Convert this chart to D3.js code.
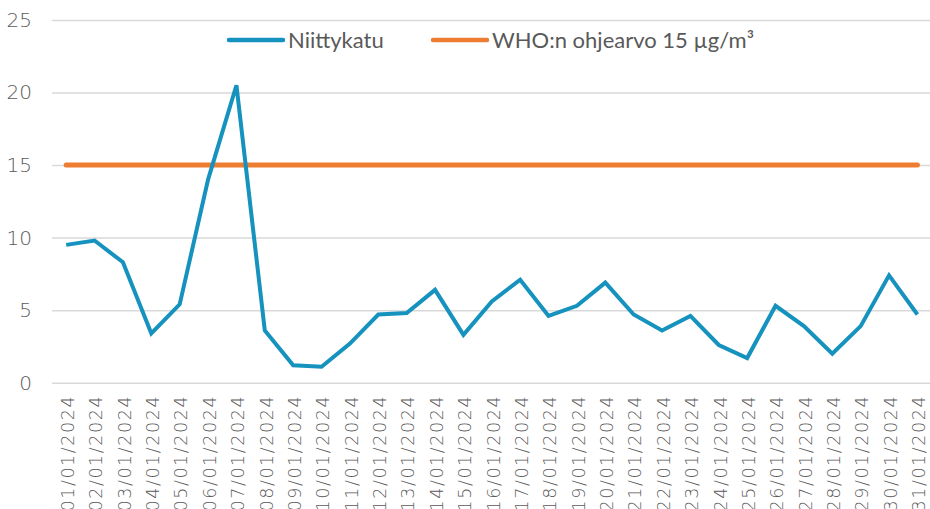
<!DOCTYPE html>
<html><head><meta charset="utf-8">
<script src="https://cdn.jsdelivr.net/npm/d3@7"></script>
<style>
html,body{margin:0;padding:0;background:#fff;}
svg{display:block;}
</style></head>
<body>
<svg id="chart" width="930" height="509"></svg>
<script>
const dates = ["01/01/2024","02/01/2024","03/01/2024","04/01/2024","05/01/2024","06/01/2024","07/01/2024","08/01/2024","09/01/2024","10/01/2024","11/01/2024","12/01/2024","13/01/2024","14/01/2024","15/01/2024","16/01/2024","17/01/2024","18/01/2024","19/01/2024","20/01/2024","21/01/2024","22/01/2024","23/01/2024","24/01/2024","25/01/2024","26/01/2024","27/01/2024","28/01/2024","29/01/2024","30/01/2024","31/01/2024"];
const niittykatu = [9.5,9.8,8.3,3.4,5.4,14.0,20.5,3.6,1.2,1.1,2.7,4.7,4.8,6.4,3.3,5.6,7.1,4.6,5.3,6.9,4.7,3.6,4.6,2.6,1.7,5.3,3.9,2.0,3.9,7.4,4.7];
const who = dates.map(() => 15);
const yTicks = [0,5,10,15,20,25];
const seriesNames = ["Niittykatu","WHO:n ohjearvo 15 µg/m³"];
const colors = ["#1592bd","#ed7d31"];

(function(){
const svg = d3.select("#chart");
const mLeft = 52, mRight = 931.6, mTop = 20, mBottom = 382.7;
const x = d3.scalePoint().domain(dates).range([mLeft, mRight]).padding(0.5);
const y = d3.scaleLinear().domain([0,25]).range([mBottom, mTop]);
const axisFont = "'DejaVu Sans', sans-serif";

const yAxis = d3.axisLeft(y).tickValues(yTicks).tickSize(-(930-mLeft)).tickPadding(20).tickFormat(d3.format("d"));
const gy = svg.append("g").attr("transform", `translate(${mLeft},0)`).call(yAxis);
gy.select(".domain").remove();
gy.selectAll(".tick line").attr("stroke","#d9d9d9").attr("stroke-width",1.5);
gy.selectAll(".tick text").attr("fill","#595959").style("font-family",axisFont).style("font-size","20px").style("font-weight","200").attr("x",-20);

const xAxis = d3.axisBottom(x).tickSize(0).tickPadding(0);
const gx = svg.append("g").attr("transform", `translate(0,${mBottom})`).call(xAxis);
gx.select(".domain").remove();
gx.selectAll(".tick text")
  .attr("fill","#595959").style("font-family",axisFont).style("font-size","17.5px").style("font-weight","200")
  .style("letter-spacing","1.6px")
  .attr("transform","rotate(-90)").attr("text-anchor","end").attr("dy","0.36em").attr("x",-12).attr("y",1);

const line = d3.line().x((d,i)=>x(dates[i])).y(d=>y(d));
svg.append("path").datum(who).attr("d",line).attr("fill","none").attr("stroke",colors[1]).attr("stroke-width",5).attr("stroke-linecap","round");
svg.append("path").datum(niittykatu).attr("d",line).attr("fill","none").attr("stroke",colors[0]).attr("stroke-width",4).attr("stroke-linejoin","miter").attr("stroke-linecap","butt");

const legFont = "Lato, 'Open Sans', sans-serif";
const leg = [{x:229, name:seriesNames[0], c:colors[0]},{x:433, name:seriesNames[1], c:colors[1]}];
const lg = svg.append("g");
leg.forEach(l => {
  lg.append("line").attr("x1",l.x).attr("x2",l.x+54).attr("y1",40).attr("y2",40).attr("stroke",l.c).attr("stroke-width",4.5).attr("stroke-linecap","round");
  lg.append("text").attr("x",l.x+59).attr("y",40).attr("dy","0.36em").attr("fill","#595959").style("font-family",legFont).style("font-size","22px").text(l.name);
});
})();
</script>
</body></html>
